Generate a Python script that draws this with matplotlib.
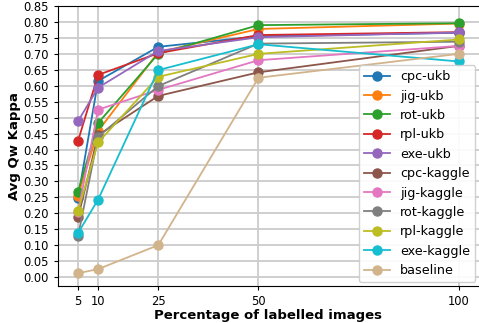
import matplotlib
matplotlib.use("Agg")
import matplotlib.pyplot as plt

# percentage of labelled images
pct = [5, 10, 25, 50, 100]

# average quadratic weighted kappa per method
cpc_ukb = [0.249, 0.615, 0.722, 0.755, 0.766]
jig_ukb = [0.255, 0.458, 0.705, 0.778, 0.795]
rot_ukb = [0.268, 0.483, 0.700, 0.790, 0.796]
rpl_ukb = [0.427, 0.634, 0.702, 0.759, 0.768]
exe_ukb = [0.489, 0.594, 0.709, 0.752, 0.767]
cpc_kaggle = [0.187, 0.445, 0.568, 0.642, 0.725]
jig_kaggle = [0.205, 0.525, 0.587, 0.680, 0.725]
rot_kaggle = [0.129, 0.440, 0.599, 0.732, 0.738]
rpl_kaggle = [0.208, 0.422, 0.628, 0.700, 0.745]
exe_kaggle = [0.138, 0.243, 0.649, 0.730, 0.676]
baseline = [0.012, 0.025, 0.100, 0.625, 0.700]

series = [
    ("cpc-ukb", cpc_ukb, "tab:blue"),
    ("jig-ukb", jig_ukb, "tab:orange"),
    ("rot-ukb", rot_ukb, "tab:green"),
    ("rpl-ukb", rpl_ukb, "tab:red"),
    ("exe-ukb", exe_ukb, "tab:purple"),
    ("cpc-kaggle", cpc_kaggle, "tab:brown"),
    ("jig-kaggle", jig_kaggle, "tab:pink"),
    ("rot-kaggle", rot_kaggle, "tab:gray"),
    ("rpl-kaggle", rpl_kaggle, "tab:olive"),
    ("exe-kaggle", exe_kaggle, "tab:cyan"),
    ("baseline", baseline, "tan"),
]

yticks = [i * 0.05 for i in range(18)]

fig = plt.figure(figsize=(4.79, 3.23), dpi=100)
ax = fig.add_axes([58 / 479, 37 / 323, 421 / 479, 280 / 323])

for name, vals, col in series:
    ax.plot(pct, vals, marker="o", markersize=6.5, linewidth=1.3, color=col, label=name)

ax.set_xlim(0, 105)
ax.set_ylim(-0.028, 0.85)
ax.set_xticks(pct)
ax.set_yticks(yticks)
ax.set_yticklabels([f"{v:.2f}" for v in yticks])
ax.tick_params(labelsize=8.3, length=3, width=0.8)
ax.grid(True, color="#cccccc", linewidth=1.3)
ax.set_axisbelow(True)
ax.spines["right"].set_visible(False)

ax.set_xlabel("Percentage of labelled images", fontsize=9.5, fontweight="bold", labelpad=1)
ax.set_ylabel("Avg Qw Kappa", fontsize=9.5, fontweight="bold", labelpad=2)

ax.legend(loc="lower right", fontsize=9.2, framealpha=0.9, borderaxespad=0.3)

fig.savefig("out.png", dpi=100)
